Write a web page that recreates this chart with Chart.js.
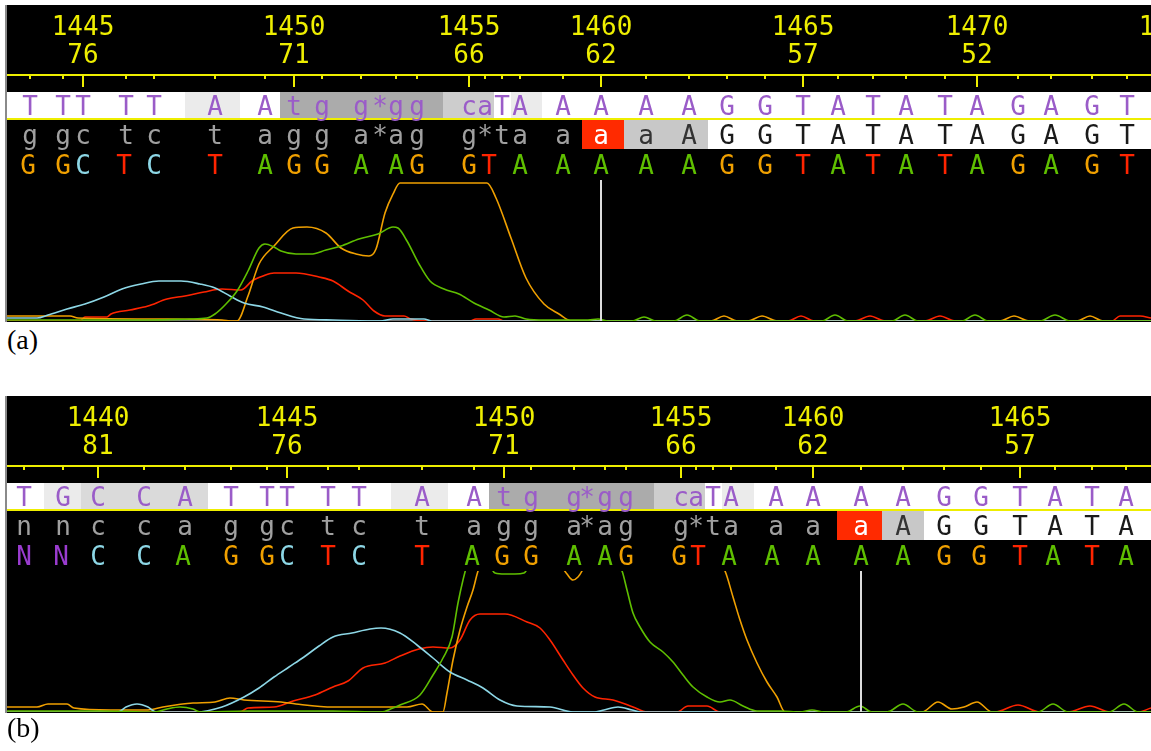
<!DOCTYPE html>
<html lang="en">
<head>
<meta charset="UTF-8">
<title>Trace comparison</title>
<script src="https://cdn.jsdelivr.net/npm/chart.js"></script>
<style>
  body { margin: 0; background: #fff; width: 1151px; height: 751px; position: relative; overflow: hidden; }
  canvas { position: absolute; left: 5px; }
  #traceA { top: 5px; }
  #traceB { top: 396px; }
  .tag { position: absolute; left: 7px; font-family: "Liberation Serif", serif; font-size: 28px; line-height: 28px; color: #000; }
</style>
</head>
<body>
<canvas id="traceA" width="1146" height="317"></canvas>
<div class="tag" style="top:326px">(a)</div>
<canvas id="traceB" width="1146" height="317"></canvas>
<div class="tag" style="top:714px">(b)</div>

<script>
  // ---- panel (a) ----
  const aFirst = 1443
  const aPos = [30, 63, 83, 126, 154, 215, 265, 294, 322, 361, 380, 396, 417, 469, 485, 502, 520, 563, 601, 646, 689, 727, 765, 803, 838, 873, 906, 945, 977, 1018, 1051, 1092, 1127, 1170]
  const aCons = ['T','T','T','T','T','A','A','t','g','g','*','g','g','c','a','T','A','A','A','A','A','G','G','T','A','T','A','T','A','G','A','G','T','']
  const aShade = [0,0,0,0,0,1,0,4,4,4,4,4,4,3,3,0,1,0,0,0,0,0,0,0,0,0,0,0,0,0,0,0,0,0]
  const aRead = ['g','g','c','t','c','t','a','g','g','a','*','a','g','g','*','t','a','a','a','a','A','G','G','T','A','T','A','T','A','G','A','G','T','']
  const aMark = [0,0,0,0,0,0,0,0,0,0,0,0,0,0,0,0,0,0,1,2,2,3,3,3,3,3,3,3,3,3,3,3,3,3]
  const aCallPos = [28, 63, 83, 124, 154, 215, 265, 294, 322, 361, 396, 417, 469, 489, 520, 563, 601, 646, 689, 727, 765, 803, 838, 873, 906, 945, 977, 1018, 1051, 1092, 1127]
  const aCalls = 'GGCTCTAGGAAGGTAAAAAGGTATATAGAGT'
  const aNumLabels = ['1445', '1450', '1455', '1460', '1465', '1470', '1475']
  const aReadLabels = ['76', '71', '66', '62', '57', '52', '47']
  const aCursor = 601

  const aTraceA = [[7,1],[60,1],[110,1],[150,1],[190,2],[207,3],[215,7],[226,17],[237,30],[248,50],[259,73],[265,77],[274,74],[281,70],[296,67],[311,67],[326,71],[341,75],[359,82],[378,87],[393,94],[398,93],[407,80],[419,57],[430,40],[444,32],[459,27],[474,18],[489,11],[504,4],[515,5],[526,2],[545,1],[588,1],[598,2],[608,0],[632,0],[644,4],[656,0],[674,0],[687,6],[700,0],[822,0],[835,6],[848,0],[892,0],[905,6],[918,0],[962,0],[975,6],[988,0],[1040,0],[1055,6],[1070,0],[1151,0]]
  const aTraceC = [[7,3],[37,3],[48,6],[67,12],[85,17],[104,24],[122,32],[141,37],[159,40],[181,40],[200,37],[215,33],[230,25],[244,18],[263,14],[281,8],[304,2],[333,1],[380,0],[393,2],[424,2],[432,0],[1151,0]]
  const aTraceG = [[7,5],[70,5],[78,3],[160,2],[222,1],[232,0],[237,0],[248,25],[259,57],[274,75],[293,93],[307,94],[326,88],[341,73],[356,67],[369,65],[376,72],[385,108],[393,127],[400,138],[487,138],[496,123],[511,83],[526,43],[544,17],[559,7],[572,0],[711,0],[724,5],[737,0],[748,0],[762,5],[777,0],[1000,0],[1014,5],[1029,0],[1077,0],[1090,5],[1103,0],[1151,0]]
  const aTraceT = [[7,0],[80,0],[85,4],[107,4],[111,7],[130,11],[148,15],[167,22],[185,25],[204,29],[222,32],[241,31],[252,40],[263,45],[274,48],[296,48],[319,44],[333,40],[348,30],[363,21],[374,10],[385,5],[404,5],[411,2],[426,0],[470,0],[476,2],[498,2],[504,0],[788,0],[801,5],[814,0],[855,0],[870,5],[885,0],[925,0],[940,5],[955,0],[1112,0],[1120,5],[1140,5],[1151,3]]

  // ---- panel (b) ----
  const bFirst = 1438
  const bPos = [24, 63, 98, 144, 185, 231, 267, 287, 328, 359, 422, 474, 504, 531, 574, 587, 605, 626, 681, 696, 713, 731, 776, 813, 861, 903, 944, 981, 1020, 1055, 1092, 1126]
  const bCons = ['T','G','C','C','A','T','T','T','T','T','A','A','t','g','g','*','g','g','c','a','T','A','A','A','A','A','G','G','T','A','T','A']
  const bShade = [0,1,2,2,2,0,0,0,0,0,1,0,4,4,4,4,4,4,3,3,0,1,0,0,0,0,0,0,0,0,0,0]
  const bRead = ['n','n','c','c','a','g','g','c','t','c','t','a','g','g','a','*','a','g','g','*','t','a','a','a','a','A','G','G','T','A','T','A']
  const bMark = [0,0,0,0,0,0,0,0,0,0,0,0,0,0,0,0,0,0,0,0,0,0,0,0,1,2,3,3,3,3,3,3]
  const bCallPos = [24, 61, 98, 144, 183, 231, 267, 287, 328, 359, 422, 472, 502, 531, 574, 605, 626, 679, 698, 729, 772, 813, 861, 903, 944, 979, 1020, 1053, 1092, 1126]
  const bCalls = 'NNCCAGGCTCTAGGAAGGTAAAAAGGTATA'
  const bNumLabels = ['1440', '1445', '1450', '1455', '1460', '1465']
  const bReadLabels = ['81', '76', '71', '66', '62', '57']
  const bCursor = 861

  const bTraceA = [[7,1],[100,1],[155,0],[167,3],[180,5],[193,3],[200,0],[248,1],[333,1],[381,0],[393,4],[400,7],[420,17],[433,37],[443,54],[452,75],[458,109],[463,132],[468,150],[478,165],[488,150],[495,139],[505,138],[515,138],[524,139],[531,150],[545,170],[600,170],[614,150],[622,141],[627,122],[633,99],[640,85],[650,70],[663,60],[673,50],[683,37],[693,25],[707,15],[720,10],[730,12],[743,6],[757,1],[781,1],[800,0],[812,2],[824,0],[846,0],[860,6],[872,0],[887,0],[903,8],[918,0],[1038,0],[1053,8],[1068,0],[1109,0],[1124,8],[1138,0],[1151,0]]
  const bTraceC = [[7,0],[118,0],[126,5],[137,8],[148,5],[156,0],[196,0],[222,5],[244,15],[259,24],[274,35],[289,45],[304,55],[319,66],[333,75],[352,79],[370,83],[381,84],[400,79],[417,67],[433,54],[450,40],[467,32],[483,24],[500,12],[517,6],[550,5],[573,0],[595,0],[604,2],[618,5],[632,2],[640,0],[1151,0]]
  const bTraceG = [[7,5],[37,5],[48,8],[67,8],[74,4],[111,2],[148,2],[163,5],[193,9],[215,10],[230,14],[244,12],[281,10],[296,8],[333,5],[407,5],[422,8],[433,0],[443,0],[447,19],[453,52],[460,82],[467,105],[473,122],[478,141],[488,165],[545,170],[560,148],[567,138],[573,132],[578,135],[582,141],[590,160],[700,165],[718,150],[725,141],[733,115],[740,92],[747,72],[757,49],[767,30],[777,15],[785,0],[922,0],[938,10],[952,3],[964,5],[977,10],[992,0],[1151,0]]
  const bTraceT = [[7,0],[240,0],[248,4],[274,5],[293,11],[315,17],[333,25],[348,31],[363,44],[385,49],[400,56],[419,63],[433,65],[450,64],[460,72],[470,92],[480,98],[505,98],[527,90],[540,84],[550,72],[563,52],[573,37],[583,24],[595,15],[613,12],[633,5],[647,0],[677,0],[688,6],[707,6],[720,0],[995,0],[1018,7],[1040,0],[1068,0],[1090,6],[1110,0],[1138,0],[1151,4]]

  const BASE_COLOR = { A: '#5fbf00', C: '#8dd7e6', G: '#f0a000', T: '#ff2400', N: '#9a3ccf' }
  const SHADES = ['#ffffff', '#ebebeb', '#dadada', '#cdcdcd', '#ababab']
  const MARK_BG = [null, '#ff2a00', '#c8c8c8', '#ffffff']
  const MARK_FG = ['#a0a0a0', '#ffffff', '#333333', '#1a1a1a']
  const YELLOW = '#eeee00'
  const FONT = '26px "DejaVu Sans Mono"'

  // draws the numbers, ruler and the three sequence rows above the traces
  function headerPlugin(p) {
    return {
      id: 'seqHeader',
      beforeDraw(chart) {
        const c = chart.ctx, sx = chart.scales.x, area = chart.chartArea
        const W = chart.width, H = chart.height
        const px = v => sx.getPixelForValue(v)
        // cell borders sit halfway between neighbouring bases
        const edge = i => i <= 0 ? area.left : i >= p.pos.length ? W : Math.round(px((p.pos[i - 1] + p.pos[i]) / 2))

        c.save()
        c.fillStyle = '#000'
        c.fillRect(0, 0, W, H)
        c.fillStyle = '#8a8a8a'
        c.fillRect(0, 0, 2, H)

        for (let i = 0; i < p.pos.length; i++) {
          c.fillStyle = SHADES[p.shade[i]]
          c.fillRect(edge(i), 87, edge(i + 1) - edge(i), 26)
          if (p.mark[i] > 0) {
            c.fillStyle = MARK_BG[p.mark[i]]
            c.fillRect(edge(i), 115, edge(i + 1) - edge(i), 29)
          }
        }

        c.fillStyle = YELLOW
        c.fillRect(area.left, 69, W, 2)
        c.fillRect(area.left, 113, W, 2)
        c.font = FONT
        c.textAlign = 'center'
        c.textBaseline = 'alphabetic'

        let num = p.first, k = 0
        p.pos.forEach((v, i) => {
          if (p.cons[i] === '*') return
          const x = Math.round(px(v))
          const major = num % 5 === 0
          c.fillRect(x - 1, 70, 2, major ? 12 : 4)
          if (major && k < p.numLabels.length) {
            c.fillText(p.numLabels[k], x, 30)
            c.fillText(p.readLabels[k], x, 58)
            k++
          }
          num++
        })

        p.pos.forEach((v, i) => {
          const x = px(v)
          c.fillStyle = '#9a5cc8'
          c.fillText(p.cons[i], x, 110)
          c.fillStyle = MARK_FG[p.mark[i]]
          c.fillText(p.read[i], x, 139)
        })
        p.callPos.forEach((v, i) => {
          c.fillStyle = BASE_COLOR[p.calls[i]]
          c.fillText(p.calls[i], px(v), 169)
        })
        c.restore()
      },
      beforeDatasetsDraw(chart) {
        const c = chart.ctx, area = chart.chartArea
        c.save()
        c.fillStyle = '#7a7a7a'
        c.fillRect(area.left, area.bottom - 1, area.right - area.left, 1)
        c.restore()
      }
    }
  }

  function toPoints(arr) {
    return arr.map(d => ({ x: d[0], y: d[1] }))
  }

  function traceChart(id, p) {
    const canvas = document.getElementById(id)
    return new Chart(canvas, {
      type: 'line',
      data: {
        datasets: [
          { label: 'cursor', data: [{ x: p.cursor, y: 0 }, { x: p.cursor, y: 141 }], borderColor: '#dddddd', borderWidth: 2, tension: 0 },
          { label: 'A', data: toPoints(p.traces.A), borderColor: BASE_COLOR.A },
          { label: 'C', data: toPoints(p.traces.C), borderColor: BASE_COLOR.C },
          { label: 'G', data: toPoints(p.traces.G), borderColor: BASE_COLOR.G },
          { label: 'T', data: toPoints(p.traces.T), borderColor: BASE_COLOR.T }
        ]
      },
      options: {
        responsive: false,
        animation: false,
        layout: { padding: { top: 175, bottom: 1, left: 2, right: 0 } },
        scales: {
          x: { type: 'linear', min: 7, max: 1151, display: false },
          y: { min: 0, max: 141, display: false }
        },
        plugins: { legend: { display: false }, tooltip: { enabled: false } },
        elements: {
          point: { radius: 0 },
          line: { borderWidth: 1.6, cubicInterpolationMode: 'monotone', fill: false }
        }
      },
      plugins: [headerPlugin(p)]
    })
  }

  traceChart('traceA', {
    first: aFirst, pos: aPos, cons: aCons, shade: aShade, read: aRead, mark: aMark,
    callPos: aCallPos, calls: aCalls, numLabels: aNumLabels, readLabels: aReadLabels, cursor: aCursor,
    traces: { A: aTraceA, C: aTraceC, G: aTraceG, T: aTraceT }
  })
  traceChart('traceB', {
    first: bFirst, pos: bPos, cons: bCons, shade: bShade, read: bRead, mark: bMark,
    callPos: bCallPos, calls: bCalls, numLabels: bNumLabels, readLabels: bReadLabels, cursor: bCursor,
    traces: { A: bTraceA, C: bTraceC, G: bTraceG, T: bTraceT }
  })
</script>
</body>
</html>
